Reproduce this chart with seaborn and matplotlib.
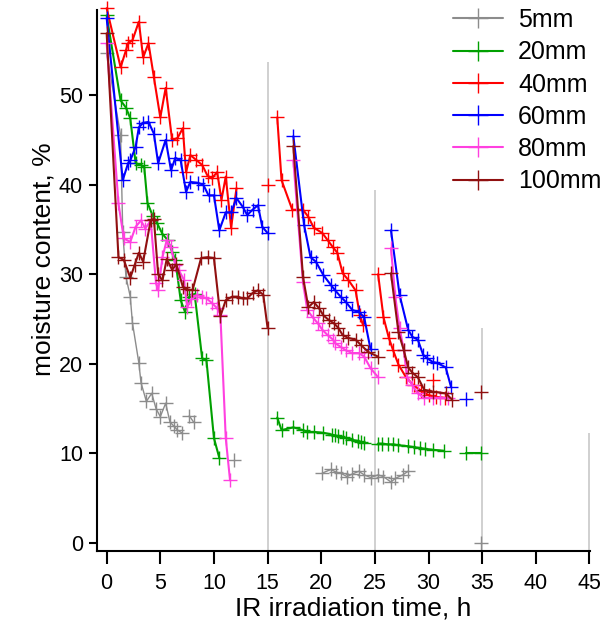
import numpy as np
import pandas as pd
import matplotlib
matplotlib.use("Agg")
import matplotlib.pyplot as plt
from matplotlib.lines import Line2D
import seaborn as sns

nan = np.nan

# series values, NaN marks a break in the measured run
x5 = [0, 1.3, 1.5, 1.8, 2.2, 2.4, 3.0, 3.2, 3.7, 4.2, 4.6, 5.0, 5.5, 5.9, 6.3, 6.6, 7.0, nan,
      7.7, 8.1, nan, 11.9, nan,
      20.1, 20.9, 21.4, 21.8, 22.4, 22.9, 23.5, 24.0, 24.6, 25.3, 25.8, 26.5, 26.9, 27.6, 28.1, nan,
      34.9]
y5 = [54.7, 45.5, 34.7, 29.7, 27.5, 24.6, 20.1, 17.9, 15.8, 16.7, 15.0, 14.1, 15.6, 13.5, 13.0, 12.6, 12.3, nan,
      14.2, 13.5, nan, 9.3, nan,
      7.8, 8.2, 7.9, 7.8, 7.4, 7.7, 8.0, 7.6, 7.3, 7.6, 7.4, 6.8, 7.2, 7.6, 8.0, nan,
      0.0]

x20 = [0, 1.3, 1.8, 2.2, 2.7, 3.2, 3.5, 3.8, 4.3, 4.7, 5.2, 5.7, 6.1, 6.4, 6.9, 7.3, 7.7, 8.2, 8.9, 9.3, 10.0, 10.5, nan,
       15.9, 16.3, 17.4, 18.3, 18.7, 19.3, 20.2, 21.0, 21.3, 21.6, 22.0, 22.3, 22.9, 23.4, 23.7, 24.0, nan,
       25.3, 25.7, 26.2, 26.7, 27.2, 28.1, 28.6, 29.2, 29.7, 30.4, 31.4, nan,
       33.5, 34.9]
y20 = [58.9, 49.4, 48.6, 47.4, 42.4, 42.2, 42.0, 38.0, 36.5, 35.7, 34.5, 33.8, 32.5, 31.6, 27.1, 25.8, 27.5, 27.8, 20.6, 20.4, 11.7, 9.5, nan,
       14.0, 12.6, 12.9, 12.6, 12.4, 12.4, 12.3, 12.1, 12.0, 11.9, 11.8, 11.7, 11.5, 11.4, 11.3, 11.2, nan,
       11.1, 11.1, 11.0, 11.0, 10.9, 10.8, 10.7, 10.6, 10.5, 10.4, 10.3, nan,
       10.0, 10.0]

x40 = [0, 1.3, 1.8, 2.0, 2.4, 3.0, 3.4, 3.9, 4.4, 5.0, 5.5, 6.1, 6.6, 7.1, 7.4, 7.8, 8.3, 8.9, 9.4, 9.8, 10.3, 10.7, 11.1, 11.6, 12.1, nan,
       15.0, nan,
       15.9, 16.3, 17.3, 18.3, 18.8, 19.3, 20.1, 20.6, 21.1, 21.5, 22.0, 22.5, 23.2, 23.6, 23.9, nan,
       25.3, 25.8, 26.3, 26.7, 27.2, 27.9, 28.6, 29.3, 30.0, 30.7, 31.5, nan,
       30.4]
y40 = [59.7, 53.1, 55.0, 55.8, 56.1, 58.2, 54.2, 55.8, 52.0, 47.5, 50.8, 45.0, 45.2, 46.3, 41.4, 43.3, 42.8, 42.2, 41.0, 40.7, 41.4, 38.3, 40.9, 35.2, 39.6, nan,
       40.0, nan,
       47.5, 40.5, 37.2, 37.2, 36.4, 35.2, 34.6, 33.8, 33.0, 32.4, 30.1, 29.4, 28.2, 25.4, 24.3, nan,
       30.0, 25.2, 22.9, 21.5, 19.9, 18.5, 17.6, 17.0, 16.5, 16.3, 16.2, nan,
       18.2]

x60 = [0, 1.5, 2.0, 2.2, 2.7, 3.0, 3.4, 3.9, 4.4, 4.8, 5.5, 6.0, 6.4, 6.9, 7.4, 7.8, 8.5, 9.0, 9.5, 10.0, 10.5, 11.1, 11.6, 12.1, 12.7, 13.1, 13.6, 14.1, 14.5, 15.0, nan,
       17.4, 18.4, 19.0, 19.5, 20.2, 20.9, 21.3, 21.8, 22.3, 22.9, 23.5, 24.0, 24.6, nan,
       26.5, 27.3, 28.1, 28.5, 29.0, 29.5, 29.9, 30.4, 30.8, 31.6, 32.1, nan,
       33.5]
y60 = [58.6, 40.5, 42.4, 42.7, 44.2, 46.4, 46.9, 47.0, 45.7, 42.4, 45.0, 41.6, 43.0, 42.7, 39.2, 40.3, 40.2, 40.0, 38.8, 38.8, 34.9, 36.9, 36.9, 38.5, 37.5, 36.6, 37.2, 37.7, 35.3, 34.6, nan,
       45.4, 35.5, 31.9, 31.4, 29.9, 28.8, 28.2, 27.5, 26.9, 26.0, 25.8, 25.2, 21.6, nan,
       34.9, 27.7, 23.8, 23.0, 22.7, 21.0, 20.6, 20.2, 20.1, 19.6, 17.4, nan,
       16.1]

x80 = [0, 1.1, 1.6, 2.2, 2.7, 3.2, 3.6, 4.1, 4.6, 4.8, 5.2, 5.6, 6.0, 6.4, 6.7, 7.2, 7.5, 7.9, 8.4, 8.9, 9.3, 9.8, 10.3, 10.6, 11.1, 11.5, nan,
       17.4, 18.3, 18.7, 19.2, 19.7, 20.1, 20.6, 21.1, 21.3, 21.8, 22.3, 22.9, 23.5, 24.0, 24.6, 25.3, nan,
       26.5, 26.9, 27.3, 27.7, 28.0, 28.5, 29.0, 29.6, 30.4, 31.1, 31.8]
y80 = [55.8, 37.9, 34.0, 33.6, 35.3, 36.0, 35.1, 36.0, 29.0, 28.2, 31.9, 33.8, 33.0, 31.0, 30.5, 29.4, 26.3, 27.2, 27.7, 27.5, 27.3, 26.8, 26.2, 25.5, 11.7, 7.0, nan,
       42.7, 29.1, 26.0, 25.2, 24.5, 23.8, 23.2, 22.7, 22.3, 21.9, 21.5, 21.2, 21.2, 20.8, 19.5, 18.5, nan,
       32.9, 27.5, 24.0, 21.5, 18.5, 17.6, 16.7, 16.2, 16.2, 16.2, 16.2]

x100 = [0, 1.1, 1.6, 2.2, 2.6, 3.0, 3.4, 4.1, 4.4, 4.8, 5.2, 5.6, 6.1, 6.5, 7.1, 7.5, 8.0, 8.8, 9.4, 10.0, 10.6, 11.1, 11.7, 12.2, 12.7, 13.1, 13.6, 14.1, 14.6, 15.0, nan,
        17.4, 18.3, 18.8, 19.3, 19.8, 20.2, 20.7, 21.2, 21.6, 22.0, 22.5, 23.2, 23.7, 24.4, 25.3, nan,
        26.5, 27.2, 27.7, 28.1, 28.5, 29.0, 29.6, 30.4, 31.6, 32.2, nan,
        34.9]
y100 = [56.9, 31.9, 31.6, 29.6, 31.0, 32.4, 31.4, 36.0, 36.2, 30.0, 29.3, 31.7, 30.5, 31.1, 28.6, 28.3, 28.2, 31.8, 31.9, 31.8, 25.3, 27.1, 27.5, 27.5, 27.3, 27.3, 27.9, 28.2, 27.7, 24.0, nan,
        44.3, 29.7, 26.3, 26.9, 26.2, 25.4, 24.9, 24.5, 24.0, 23.2, 22.9, 22.7, 22.1, 21.3, 20.8, nan,
        30.1, 23.5, 21.5, 19.6, 19.0, 18.5, 17.1, 16.9, 16.7, 16.0, nan,
        16.9]

labels = ["5mm", "20mm", "40mm", "60mm", "80mm", "100mm"]
colors = ["#8c8c8c", "#00a000", "#ff0000", "#0000ff", "#ff40e0", "#901010"]

# grey drop lines in the original figure
vline_x = [15, 25, 35, 45]
vline_top = [53.7, 39.4, 24.0, 12.3]


def to_frame(name, xs, ys):
    seg = 0
    rows = []
    for x, y in zip(xs, ys):
        if np.isnan(x):
            seg += 1
            continue
        rows.append((name, f"{name}_{seg}", x, y))
    return pd.DataFrame(rows, columns=["thickness", "run", "time", "moisture"])


series = [x5, y5], [x20, y20], [x40, y40], [x60, y60], [x80, y80], [x100, y100]
df = pd.concat([to_frame(lab, xs, ys) for lab, (xs, ys) in zip(labels, series)],
               ignore_index=True)

sns.set_theme(style="white")
plt.rcParams['font.family'] = ['Liberation Sans', 'DejaVu Sans']
plt.rcParams['text.color'] = 'black'
plt.rcParams['axes.labelcolor'] = 'black'
plt.rcParams['xtick.color'] = 'black'
plt.rcParams['ytick.color'] = 'black'

fig = plt.figure(figsize=(6.03, 6.27), dpi=100)
ax = fig.add_axes([97 / 603, 1 - 551 / 627, (590 - 97) / 603, (551 - 10) / 627])

ax.vlines(vline_x, -0.9, vline_top, colors="#c8c8c8", linewidth=1.2, zorder=1)

for lab, col in zip(labels, colors):
    sub = df[df["thickness"] == lab]
    sns.lineplot(data=sub, x="time", y="moisture", units="run", estimator=None,
                 sort=False, color=col, marker="+", markersize=10, markeredgewidth=1.0,
                 markeredgecolor=col, markerfacecolor=col,
                 linewidth=1.0 if lab == "5mm" else 1.5, legend=False, ax=ax,
                 clip_on=False)

ax.set_xlim(-0.9, 45.05)
ax.set_ylim(-0.9, 59.5)
ax.set_xticks(range(0, 46, 5))
ax.set_yticks(range(0, 51, 10))

for side in ["top", "right"]:
    ax.spines[side].set_visible(False)
for side in ["left", "bottom"]:
    ax.spines[side].set_color("black")
    ax.spines[side].set_linewidth(1.5)

ax.tick_params(axis="x", direction="out", length=9.5, width=1.5, color="black",
               labelsize=15.5, labelcolor="black", pad=6, bottom=True)
ax.tick_params(axis="y", direction="out", length=6, width=1.5, color="black",
               labelsize=15.5, labelcolor="black", pad=4, left=True)

ax.set_xlabel("IR irradiation time, h", fontsize=19)
ax.set_ylabel("moisture content, %", fontsize=19)
ax.xaxis.set_label_coords(0.52, -0.084)
ax.yaxis.set_label_coords(-0.085, 0.54)

handles = [Line2D([], [], color=c, marker="+", markersize=14, markeredgewidth=1.0,
                  linewidth=1.5) for c in colors]
ax.legend(handles, labels, loc="upper left", bbox_to_anchor=(453 / 603, 1 - 8 / 627),
          bbox_transform=fig.transFigure, frameon=False, fontsize=18,
          borderpad=0, borderaxespad=0, handlelength=2.0, handletextpad=0.6,
          labelspacing=0.33)

fig.savefig("out.png", dpi=100)
